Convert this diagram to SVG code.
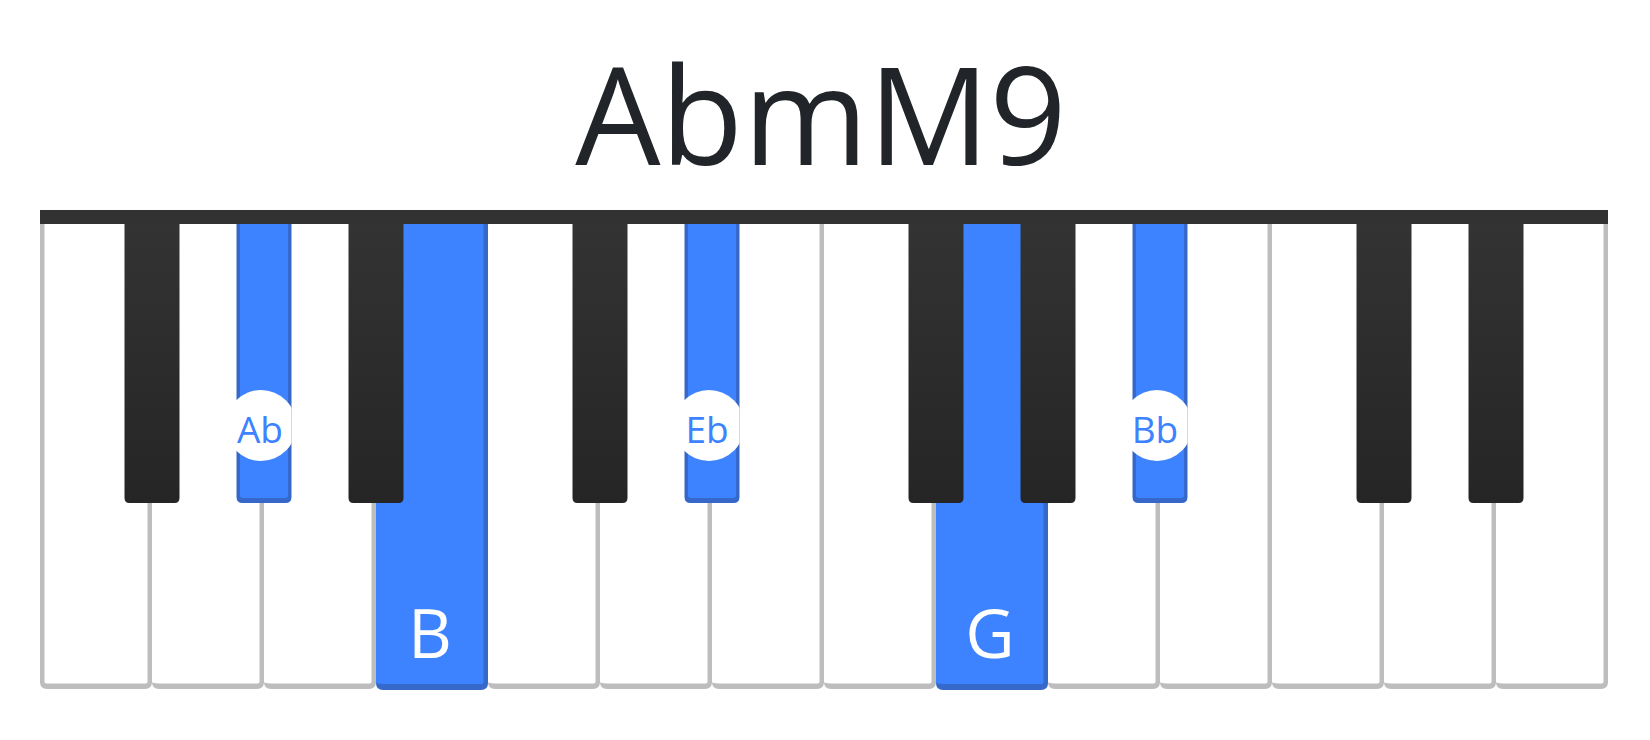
<svg xmlns="http://www.w3.org/2000/svg" width="1650" height="740" viewBox="0 0 1650 740">
  <style>
    .wk-border { fill: #bdbdbd; }
    .wk-face { fill: #ffffff; }
    .hl-border { fill: #3568c8; }
    .hl-face { fill: #3d82ff; }
    .bk { fill: url(#bkGrad); }
    .bar { fill: #323232; }
    .title { font-family: "Open Sans", "Noto Sans", sans-serif; font-size: 135px; fill: #212529; text-anchor: middle; }
    .wlabel { font-family: "Open Sans", "Noto Sans", sans-serif; font-size: 68px; fill: #ffffff; text-anchor: middle; }
    .blabel { font-family: "Open Sans", "Noto Sans", sans-serif; font-size: 37px; fill: #3d82ff; text-anchor: middle; }
    .lcircle { fill: #ffffff; }
  </style>
  <defs>
    <linearGradient id="bkGrad" x1="0" y1="0" x2="0" y2="1">
      <stop offset="0" stop-color="#333333"/>
      <stop offset="1" stop-color="#252525"/>
    </linearGradient>
    <clipPath id="clipAb"><rect x="233" y="224" width="58.5" height="279"/></clipPath>
    <clipPath id="clipEb"><rect x="681" y="224" width="58.5" height="279"/></clipPath>
    <clipPath id="clipBb"><rect x="1129" y="224" width="58.5" height="279"/></clipPath>
  </defs>

  <rect width="1650" height="740" fill="#ffffff"/>

  <g id="title">
    <text class="title" x="821" y="165">AbmM9</text>
  </g>

  <!-- White keys: x_i = 40 + 112*i, width 112 -->
  <g id="white-keys">
    <g id="wk-F1">
      <path class="wk-border" d="M40,224 H152 V682 Q152,689 145,689 H47 Q40,689 40,682 Z"/>
      <path class="wk-face" d="M44.5,224 H147.5 V682 A2.5,1.5 0 0 1 145,683.5 H47 A2.5,1.5 0 0 1 44.5,682 Z"/>
    </g>
    <g id="wk-G1">
      <path class="wk-border" d="M152,224 H264 V682 Q264,689 257,689 H159 Q152,689 152,682 Z"/>
      <path class="wk-face" d="M152,224 H259.5 V682 A2.5,1.5 0 0 1 257,683.5 H159 A7,1.5 0 0 1 152,682 Z"/>
    </g>
    <g id="wk-A1">
      <path class="wk-border" d="M264,224 H376 V682 Q376,689 369,689 H271 Q264,689 264,682 Z"/>
      <path class="wk-face" d="M264,224 H371.5 V682 A2.5,1.5 0 0 1 369,683.5 H271 A7,1.5 0 0 1 264,682 Z"/>
    </g>
    <g id="wk-B1">
      <path class="hl-border" d="M376,224 H488 V683 Q488,690 481,690 H383 Q376,690 376,683 Z"/>
      <path class="hl-face" d="M376,224 H483.5 V682.5 A2.5,1.5 0 0 1 481,684 H383 A7,1.5 0 0 1 376,682.5 Z"/>
      <text class="wlabel" x="430" y="658">B</text>
    </g>
    <g id="wk-C2">
      <path class="wk-border" d="M488,224 H600 V682 Q600,689 593,689 H495 Q488,689 488,682 Z"/>
      <path class="wk-face" d="M488,224 H595.5 V682 A2.5,1.5 0 0 1 593,683.5 H495 A7,1.5 0 0 1 488,682 Z"/>
    </g>
    <g id="wk-D2">
      <path class="wk-border" d="M600,224 H712 V682 Q712,689 705,689 H607 Q600,689 600,682 Z"/>
      <path class="wk-face" d="M600,224 H707.5 V682 A2.5,1.5 0 0 1 705,683.5 H607 A7,1.5 0 0 1 600,682 Z"/>
    </g>
    <g id="wk-E2">
      <path class="wk-border" d="M712,224 H824 V682 Q824,689 817,689 H719 Q712,689 712,682 Z"/>
      <path class="wk-face" d="M712,224 H819.5 V682 A2.5,1.5 0 0 1 817,683.5 H719 A7,1.5 0 0 1 712,682 Z"/>
    </g>
    <g id="wk-F2">
      <path class="wk-border" d="M824,224 H936 V682 Q936,689 929,689 H831 Q824,689 824,682 Z"/>
      <path class="wk-face" d="M824,224 H931.5 V682 A2.5,1.5 0 0 1 929,683.5 H831 A7,1.5 0 0 1 824,682 Z"/>
    </g>
    <g id="wk-G2">
      <path class="hl-border" d="M936,224 H1048 V683 Q1048,690 1041,690 H943 Q936,690 936,683 Z"/>
      <path class="hl-face" d="M936,224 H1043.5 V682.5 A2.5,1.5 0 0 1 1041,684 H943 A7,1.5 0 0 1 936,682.5 Z"/>
      <text class="wlabel" x="990" y="658">G</text>
    </g>
    <g id="wk-A2">
      <path class="wk-border" d="M1048,224 H1160 V682 Q1160,689 1153,689 H1055 Q1048,689 1048,682 Z"/>
      <path class="wk-face" d="M1048,224 H1155.5 V682 A2.5,1.5 0 0 1 1153,683.5 H1055 A7,1.5 0 0 1 1048,682 Z"/>
    </g>
    <g id="wk-B2">
      <path class="wk-border" d="M1160,224 H1272 V682 Q1272,689 1265,689 H1167 Q1160,689 1160,682 Z"/>
      <path class="wk-face" d="M1160,224 H1267.5 V682 A2.5,1.5 0 0 1 1265,683.5 H1167 A7,1.5 0 0 1 1160,682 Z"/>
    </g>
    <g id="wk-C3">
      <path class="wk-border" d="M1272,224 H1384 V682 Q1384,689 1377,689 H1279 Q1272,689 1272,682 Z"/>
      <path class="wk-face" d="M1272,224 H1379.5 V682 A2.5,1.5 0 0 1 1377,683.5 H1279 A7,1.5 0 0 1 1272,682 Z"/>
    </g>
    <g id="wk-D3">
      <path class="wk-border" d="M1384,224 H1496 V682 Q1496,689 1489,689 H1391 Q1384,689 1384,682 Z"/>
      <path class="wk-face" d="M1384,224 H1491.5 V682 A2.5,1.5 0 0 1 1489,683.5 H1391 A7,1.5 0 0 1 1384,682 Z"/>
    </g>
    <g id="wk-E3">
      <path class="wk-border" d="M1496,224 H1608 V682 Q1608,689 1601,689 H1503 Q1496,689 1496,682 Z"/>
      <path class="wk-face" d="M1496,224 H1603.5 V682 A2.5,1.5 0 0 1 1601,683.5 H1503 A7,1.5 0 0 1 1496,682 Z"/>
    </g>
  </g>

  <!-- Black keys: centred on x_k, width 55 -->
  <g id="black-keys">
    <g id="bk-Fs1"><path class="bk" d="M124.5,224 H179.5 V498 Q179.5,503 174.5,503 H129.5 Q124.5,503 124.5,498 Z"/></g>
    <g id="bk-Ab1">
      <path class="hl-border" d="M236.5,224 H291.5 V497 Q291.5,503 285.5,503 H242.5 Q236.5,503 236.5,497 Z"/>
      <path class="hl-face" d="M240,224 H288 V495 Q288,498 285,498 H243 Q240,498 240,495 Z"/>
      <g clip-path="url(#clipAb)">
        <circle class="lcircle" cx="261" cy="425.5" r="35.5"/>
      </g>
      <text class="blabel" x="260" y="443">Ab</text>
    </g>
    <g id="bk-As1"><path class="bk" d="M348.5,224 H403.5 V498 Q403.5,503 398.5,503 H353.5 Q348.5,503 348.5,498 Z"/></g>
    <g id="bk-Cs2"><path class="bk" d="M572.5,224 H627.5 V498 Q627.5,503 622.5,503 H577.5 Q572.5,503 572.5,498 Z"/></g>
    <g id="bk-Eb2">
      <path class="hl-border" d="M684.5,224 H739.5 V497 Q739.5,503 733.5,503 H690.5 Q684.5,503 684.5,497 Z"/>
      <path class="hl-face" d="M688,224 H736 V495 Q736,498 733,498 H691 Q688,498 688,495 Z"/>
      <g clip-path="url(#clipEb)">
        <circle class="lcircle" cx="709" cy="425.5" r="35.5"/>
      </g>
      <text class="blabel" x="707" y="443">Eb</text>
    </g>
    <g id="bk-Fs2"><path class="bk" d="M908.5,224 H963.5 V498 Q963.5,503 958.5,503 H913.5 Q908.5,503 908.5,498 Z"/></g>
    <g id="bk-Gs2"><path class="bk" d="M1020.5,224 H1075.5 V498 Q1075.5,503 1070.5,503 H1025.5 Q1020.5,503 1020.5,498 Z"/></g>
    <g id="bk-Bb2">
      <path class="hl-border" d="M1132.5,224 H1187.5 V497 Q1187.5,503 1181.5,503 H1138.5 Q1132.5,503 1132.5,497 Z"/>
      <path class="hl-face" d="M1136,224 H1184 V495 Q1184,498 1181,498 H1139 Q1136,498 1136,495 Z"/>
      <g clip-path="url(#clipBb)">
        <circle class="lcircle" cx="1157" cy="425.5" r="35.5"/>
      </g>
      <text class="blabel" x="1155" y="443">Bb</text>
    </g>
    <g id="bk-Cs3"><path class="bk" d="M1356.5,224 H1411.5 V498 Q1411.5,503 1406.5,503 H1361.5 Q1356.5,503 1356.5,498 Z"/></g>
    <g id="bk-Ds3"><path class="bk" d="M1468.5,224 H1523.5 V498 Q1523.5,503 1518.5,503 H1473.5 Q1468.5,503 1468.5,498 Z"/></g>
  </g>

  <g id="top-bar">
    <rect class="bar" x="40" y="210" width="1568" height="14"/>
  </g>
</svg>
